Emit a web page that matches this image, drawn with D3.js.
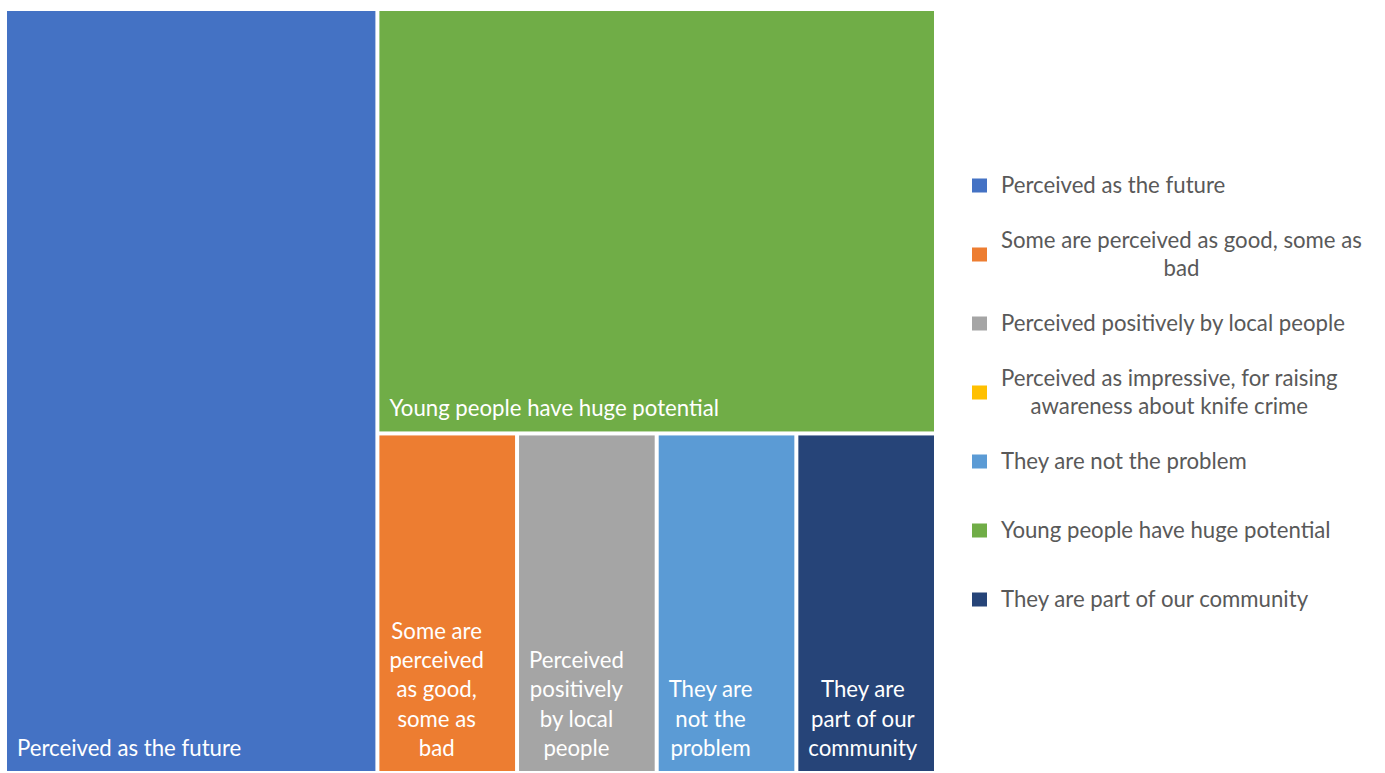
<!DOCTYPE html>
<html><head><meta charset="utf-8">
<script src="https://cdn.jsdelivr.net/npm/d3@7"></script>
<style>body{margin:0;background:#fff} svg text{font-family: Lato, "Noto Sans", sans-serif}</style>
</head><body><svg id="c" width="1385" height="773"></svg>
<script>
const categories = ["Perceived as the future","Some are perceived as good, some as bad","Perceived positively by local people","Perceived as impressive, for raising awareness about knife crime","They are not the problem","Young people have huge potential","They are part of our community"];
const values = [6,1,1,0,1,5,1];
const colors = ["#4472C4","#ED7D31","#A5A5A5","#FFC000","#5B9BD5","#70AD47","#264478"];

const FONT = 22.2;
const svg = d3.select("#c");
const W = 927, H = 760, X0 = 7, Y0 = 11;

function place(nodes, total, x0, y0, x1, y1) {
  if (!nodes.length) return;
  const wide = (x1 - x0) >= (y1 - y0);
  const first = nodes[0], rest = nodes.slice(1);
  if (!rest.length || rest.every(n => n.value === first.value)) {
    const row = {children: nodes, value: total};
    (wide ? d3.treemapDice : d3.treemapSlice)(row, x0, y0, x1, y1);
    return;
  }
  const t = first.value / total;
  if (wide) {
    const xk = x0 + (x1 - x0) * t;
    first.x0 = x0; first.y0 = y0; first.x1 = xk; first.y1 = y1;
    place(rest, total - first.value, xk, y0, x1, y1);
  } else {
    const yk = y0 + (y1 - y0) * t;
    first.x0 = x0; first.y0 = y0; first.x1 = x1; first.y1 = yk;
    place(rest, total - first.value, x0, yk, x1, y1);
  }
}
function excelTile(parent, x0, y0, x1, y1) {
  place(parent.children.slice(), parent.value, x0, y0, x1, y1);
}

const items = categories.map((c, i) => ({name: c, value: values[i], color: colors[i]})).filter(d => d.value > 0);
const root = d3.hierarchy({children: items}).sum(d => d.value || 0).sort((a, b) => b.value - a.value);
d3.treemap().size([W, H]).paddingInner(4).tile(excelTile)(root);

const g = svg.append("g").attr("transform", `translate(${X0},${Y0})`);
const leaves = g.selectAll("g.leaf").data(root.leaves()).join("g").attr("class", "leaf");
leaves.append("rect")
  .attr("x", d => d.x0).attr("y", d => d.y0)
  .attr("width", d => d.x1 - d.x0).attr("height", d => d.y1 - d.y0)
  .attr("fill", d => d.data.color);

function wrapLines(textSel, str, maxW) {
  const words = str.split(" ");
  const lines = [];
  let cur = "";
  const t = textSel.append("tspan");
  for (const w of words) {
    const cand = cur ? cur + " " + w : w;
    t.text(cand);
    if (t.node().getComputedTextLength() > maxW && cur) { lines.push(cur); cur = w; }
    else cur = cand;
  }
  if (cur) lines.push(cur);
  t.remove();
  return lines;
}
function measure(textSel, s) {
  const t = textSel.append("tspan").text(s);
  const w = t.node().getComputedTextLength();
  t.remove();
  return w;
}

const LH = 29.3;
leaves.each(function(d) {
  const sel = d3.select(this);
  const txt = sel.append("text").attr("fill", "#fff").attr("font-size", FONT);
  const lines = wrapLines(txt, d.data.name, d.x1 - d.x0 - 24);
  const bw = d3.max(lines, l => measure(txt, l));
  const cx = d.x0 + 10 + bw / 2;
  const lastBase = d.y1 - 15;
  lines.forEach((l, i) => {
    txt.append("tspan").attr("x", cx).attr("y", lastBase - (lines.length - 1 - i) * LH)
      .attr("text-anchor", "middle").text(l);
  });
});

// legend
const lg = svg.append("g");
categories.forEach((c, i) => {
  const cy = 185.5 + i * 69;
  lg.append("rect").attr("x", 972).attr("y", cy - 7).attr("width", 15).attr("height", 14).attr("fill", colors[i]);
  const txt = lg.append("text").attr("fill", "#595959").attr("font-size", FONT);
  const lines = wrapLines(txt, c, 378);
  const bw = d3.max(lines, l => measure(txt, l));
  const cx = 1001 + bw / 2;
  const lh = 28;
  lines.forEach((l, k) => {
    txt.append("tspan").attr("x", cx).attr("y", cy - (lines.length - 1) * lh / 2 + k * lh + 0.36 * FONT)
      .attr("text-anchor", "middle").text(l);
  });
});
</script></body></html>
